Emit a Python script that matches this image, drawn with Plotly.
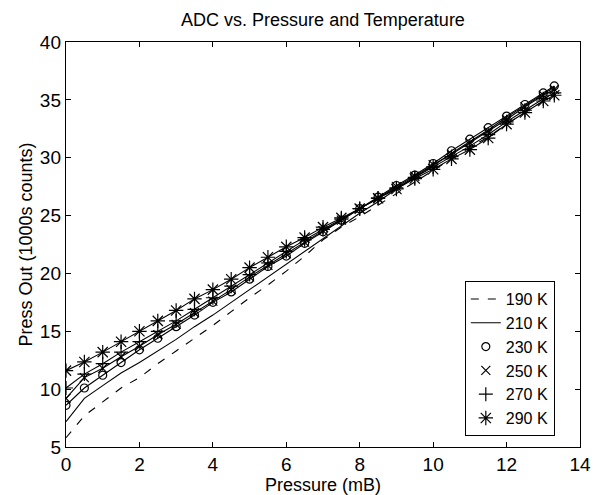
import plotly.graph_objects as go

pressure = [0, 0.5, 1, 1.5, 2, 2.5, 3, 3.5, 4, 4.5, 5, 5.5, 6, 6.5, 7, 7.5,
            8, 8.5, 9, 9.5, 10, 10.5, 11, 11.5, 12, 12.5, 13, 13.3]

t190 = [5.8, 7.7, 8.9, 10.1, 11.0, 12.2, 13.3, 14.4, 15.5, 16.7, 17.9, 19.0, 20.2, 21.5,
        22.9, 24.0, 24.9, 25.9, 26.9, 27.9, 28.9, 29.9, 30.9, 31.8, 32.9, 33.9, 34.9, 35.5]
t210 = [7.2, 9.2, 10.3, 11.4, 12.3, 13.3, 14.3, 15.4, 16.4, 17.5, 18.6, 19.7, 20.8, 21.9,
        23.0, 24.1, 25.2, 26.2, 27.3, 28.3, 29.3, 30.4, 31.4, 32.4, 33.5, 34.5, 35.5, 36.1]
t230 = [8.6, 10.1, 11.2, 12.3, 13.4, 14.4, 15.4, 16.4, 17.5, 18.4, 19.5, 20.6, 21.5, 22.6,
        23.6, 24.6, 25.6, 26.6, 27.6, 28.5, 29.5, 30.6, 31.6, 32.6, 33.6, 34.6, 35.6, 36.2]
t250 = [9.2, 11.0, 11.8, 12.8, 13.7, 14.7, 15.6, 16.6, 17.6, 18.6, 19.7, 20.7, 21.7, 22.7,
        23.7, 24.6, 25.6, 26.5, 27.5, 28.4, 29.4, 30.3, 31.3, 32.3, 33.3, 34.4, 35.4, 35.9]
t270 = [10.1, 11.3, 12.2, 13.2, 14.1, 15.0, 15.9, 16.9, 17.9, 18.9, 19.9, 20.9, 21.9, 22.9,
        23.8, 24.7, 25.6, 26.5, 27.4, 28.3, 29.2, 30.1, 31.0, 32.0, 33.1, 34.1, 35.1, 35.6]
t290 = [11.6, 12.35, 13.2, 14.1, 15.0, 15.9, 16.8, 17.8, 18.6, 19.5, 20.5, 21.4, 22.3, 23.1,
        24.0, 24.8, 25.6, 26.5, 27.3, 28.2, 29.0, 29.9, 30.7, 31.7, 32.9, 33.9, 34.9, 35.4]

labels = ["190 K", "210 K", "230 K", "250 K", "270 K", "290 K"]
xticks = [0, 2, 4, 6, 8, 10, 12, 14]
yticks = [5, 10, 15, 20, 25, 30, 35, 40]

FONT = "Liberation Sans, Arial, sans-serif"
fig = go.Figure()

fig.add_trace(go.Scatter(x=pressure, y=t190, mode="lines", name=labels[0],
                         line=dict(color="black", width=1.1, dash="8px,9px")))
fig.add_trace(go.Scatter(x=pressure, y=t210, mode="lines", name=labels[1],
                         line=dict(color="black", width=1.1)))

marker_series = [(t230, "circle-open", 8), (t250, "x-thin-open", 9),
                 (t270, "cross-thin-open", 10), (t290, "asterisk-open", 12)]
for (vals, sym, sz), lab in zip(marker_series, labels[2:]):
    fig.add_trace(go.Scatter(x=pressure, y=vals, mode="lines", showlegend=False,
                             line=dict(color="black", width=1.1), hoverinfo="skip"))
    fig.add_trace(go.Scatter(x=pressure, y=vals, mode="markers", name=lab,
                             marker=dict(symbol=sym, size=sz, color="black",
                                         line=dict(color="black", width=1.2))))

axis_common = dict(showline=True, linecolor="black", linewidth=1.4, mirror="ticks",
                   ticks="inside", ticklen=5, tickcolor="black", tickwidth=1,
                   showgrid=False, zeroline=False,
                   tickfont=dict(family=FONT, size=19, color="black"))

# page body has an 8px margin; figure is sized/offset to compensate
fig.update_layout(
    width=591, height=487,
    margin=dict(l=58, r=19, t=34, b=48),
    paper_bgcolor="white", plot_bgcolor="white",
    title=dict(text="ADC vs. Pressure and Temperature", x=0.5, xref="paper",
               xanchor="center", y=0.976, yanchor="middle",
               font=dict(family=FONT, size=18, color="black")),
    xaxis=dict(range=[0, 14], tickvals=xticks, automargin=False,
               title=dict(text="Pressure (mB)", standoff=0,
                          font=dict(family=FONT, size=18, color="black")),
               **axis_common),
    yaxis=dict(range=[5, 40], tickvals=yticks, automargin=False,
               title=dict(text="Press Out (1000s counts)", standoff=2,
                          font=dict(family=FONT, size=18, color="black")),
               **axis_common),
    legend=dict(x=0.951, y=0.027, xanchor="right", yanchor="bottom",
                bgcolor="white", bordercolor="black", borderwidth=1,
                font=dict(family=FONT, size=16, color="black"),
                tracegroupgap=0, itemwidth=30),
    showlegend=True,
)

fig.write_html("out.html")
